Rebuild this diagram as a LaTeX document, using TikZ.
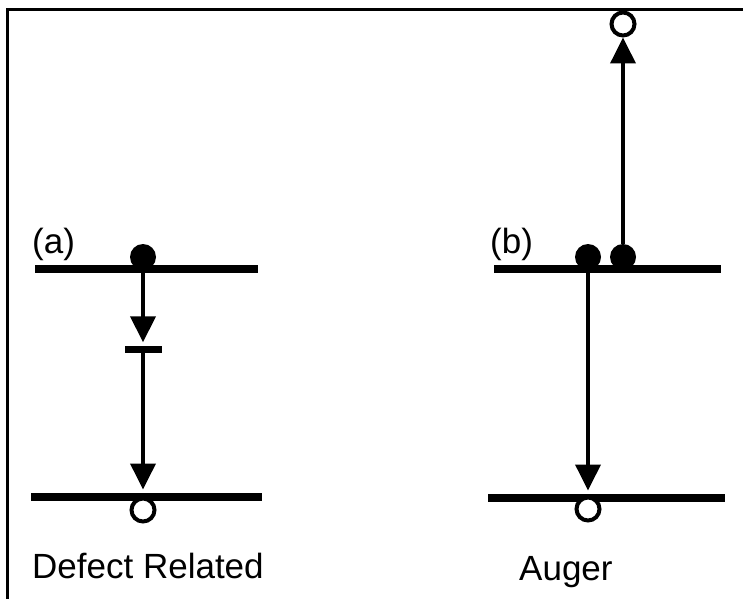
\documentclass[tikz,border=0pt]{standalone}
\usepackage{fontspec}
\setmainfont{Liberation Sans}
\usetikzlibrary{arrows.meta}
\begin{document}
\begin{tikzpicture}[x=1pt,y=-1pt,
  level/.style={line width=7.5pt},
  frameline/.style={line width=3pt},
  electron/.style={circle,fill=black,inner sep=0pt,minimum size=26pt},
  hole/.style={circle,draw=black,line width=4pt,fill=white,inner sep=0pt,minimum size=23pt},
  defect/.style={rectangle,fill=black,inner sep=0pt,minimum width=37pt,minimum height=7pt},
  trans/.style={line width=3.8pt,-{Triangle[length=26pt,width=25pt]}},
  lbl/.style={inner sep=0pt,font=\fontsize{35}{40}\selectfont},
  caption/.style={inner sep=0pt,font=\fontsize{35}{40}\selectfont}]
\useasboundingbox (0,0) rectangle (743,599);
% frame (top and left edges)
\draw[frameline] (743,10) -- (7,10) -- (7,599);

% (a) defect related recombination
\draw[level] (35,269) -- (258,269);
\draw[level] (31,497) -- (262,497);
\node[electron] (ea) at (143,257) {};
\node[defect] (da) at (143,349) {};
\node[hole] (ha) at (143,510) {};
\draw[trans,shorten >=3pt] (ea.south) -- (da.north);
\draw[trans,shorten >=7pt] (da.south) -- (ha.north);
\node[lbl,anchor=base west] (la) at (32,253) {(a)};
\node[caption,anchor=base west] (ca) at (32,578) {Defect Related};

% (b) Auger recombination
\draw[level] (494,269) -- (721,269);
\draw[level] (488,498) -- (725,498);
\node[electron] (eb) at (588,257) {};
\node[electron] (ec) at (623,257) {};
\node[hole] (hb) at (588,509) {};
\node[hole] (ht) at (623,24) {};
\draw[trans,shorten >=5pt] (eb.south) -- (hb.north);
\draw[trans] (ec.north) -- (ht.south);
\node[lbl,anchor=base west] (lb) at (490,253) {(b)};
\node[caption,anchor=base west] (cb) at (519,580) {Auger};
\end{tikzpicture}
\end{document}
